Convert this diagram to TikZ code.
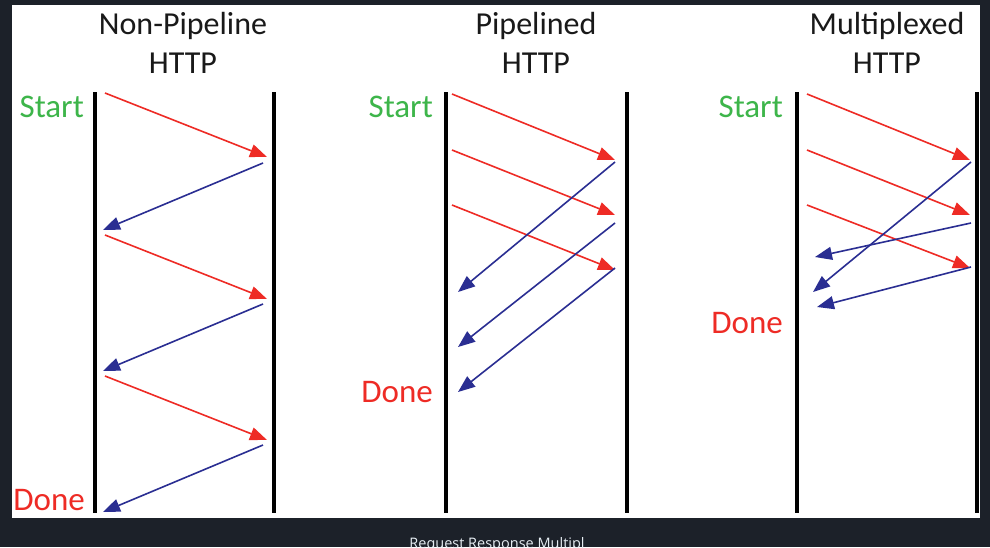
\documentclass[tikz,border=0pt]{standalone}
\usepackage{fontspec}
\setmainfont{Carlito}
\newfontfamily\capfont{Open Sans}
\usetikzlibrary{arrows.meta}
\definecolor{bg}{HTML}{1C2129}
\definecolor{req}{HTML}{EE2B25}
\definecolor{resp}{HTML}{2A2E92}
\definecolor{startc}{HTML}{3DB54A}
\definecolor{capc}{HTML}{E6EDF3}
\begin{document}
\begin{tikzpicture}[x=1pt,y=-1pt,
  wire/.style={line width=4pt, black},
  reqarrow/.style={draw=req, line width=1.6pt, -{Triangle[length=17pt,width=13pt,fill=req]}},
  resparrow/.style={draw=resp, line width=1.6pt, -{Triangle[length=17pt,width=13pt,fill=resp]}},
  title/.style={font=\fontsize{32}{39}\selectfont, align=center, text=black!90, inner sep=0pt},
  startlbl/.style={font=\fontsize{33}{36}\selectfont, anchor=base east, inner sep=0pt, text=startc},
  donelbl/.style={font=\fontsize{33}{36}\selectfont, anchor=base east, inner sep=0pt, text=req}]
\fill[bg] (0,0) rectangle (990,547);
\useasboundingbox (0,0) rectangle (990,547);
\fill[white] (12,5) rectangle (980,518);

% titles
\node[title] (t1) at (183,43) {Non-Pipeline\\HTTP};
\node[title] (t2) at (536,43) {Pipelined\\HTTP};
\node[title] (t3) at (887,43) {Multiplexed\\HTTP};

% labels
\node[startlbl] (s1) at (84,117) {Start};
\node[donelbl] (d1) at (85,510) {Done};
\node[startlbl] (s2) at (433,117) {Start};
\node[donelbl] (d2) at (433,402) {Done};
\node[startlbl] (s3) at (783,117) {Start};
\node[donelbl] (d3) at (783,333) {Done};

% timelines
\coordinate (a1t) at (95,92);  \coordinate (a1b) at (95,513);
\coordinate (b1t) at (274,92); \coordinate (b1b) at (274,513);
\coordinate (a2t) at (446,92); \coordinate (a2b) at (446,513);
\coordinate (b2t) at (627,92); \coordinate (b2b) at (627,513);
\coordinate (a3t) at (797,92); \coordinate (a3b) at (797,513);
\coordinate (b3t) at (977,92); \coordinate (b3b) at (977,513);
\draw[wire] (a1t) -- (a1b);
\draw[wire] (b1t) -- (b1b);
\draw[wire] (a2t) -- (a2b);
\draw[wire] (b2t) -- (b2b);
\draw[wire] (a3t) -- (a3b);
\draw[wire] (b3t) -- (b3b);

% panel 1
\coordinate (p1q1s) at (105,93);  \coordinate (p1q1e) at (267,157);
\coordinate (p1r1s) at (263,163); \coordinate (p1r1e) at (103,230);
\coordinate (p1q2s) at (105,235); \coordinate (p1q2e) at (267,299);
\coordinate (p1r2s) at (263,304); \coordinate (p1r2e) at (103,371);
\coordinate (p1q3s) at (105,376); \coordinate (p1q3e) at (267,440);
\coordinate (p1r3s) at (263,445); \coordinate (p1r3e) at (103,512);
\draw[reqarrow] (p1q1s) -- (p1q1e);
\draw[resparrow] (p1r1s) -- (p1r1e);
\draw[reqarrow] (p1q2s) -- (p1q2e);
\draw[resparrow] (p1r2s) -- (p1r2e);
\draw[reqarrow] (p1q3s) -- (p1q3e);
\draw[resparrow] (p1r3s) -- (p1r3e);

% panel 2
\coordinate (p2q1s) at (452,94);  \coordinate (p2q1e) at (615,160);
\coordinate (p2q2s) at (452,150); \coordinate (p2q2e) at (615,215);
\coordinate (p2q3s) at (452,205); \coordinate (p2q3e) at (615,270);
\coordinate (p2r1s) at (615,162); \coordinate (p2r1e) at (458,292);
\coordinate (p2r2s) at (615,223); \coordinate (p2r2e) at (458,347);
\coordinate (p2r3s) at (615,268); \coordinate (p2r3e) at (458,392);
\draw[reqarrow] (p2q1s) -- (p2q1e);
\draw[reqarrow] (p2q2s) -- (p2q2e);
\draw[reqarrow] (p2q3s) -- (p2q3e);
\draw[resparrow] (p2r1s) -- (p2r1e);
\draw[resparrow] (p2r2s) -- (p2r2e);
\draw[resparrow] (p2r3s) -- (p2r3e);

% panel 3
\coordinate (p3q1s) at (807,94);  \coordinate (p3q1e) at (970,160);
\coordinate (p3q2s) at (807,150); \coordinate (p3q2e) at (970,215);
\coordinate (p3q3s) at (807,205); \coordinate (p3q3e) at (970,268);
\coordinate (p3r1s) at (971,162); \coordinate (p3r1e) at (813,292);
\coordinate (p3r2s) at (971,223); \coordinate (p3r2e) at (815,257);
\coordinate (p3r3s) at (971,267); \coordinate (p3r3e) at (817,307);
\draw[reqarrow] (p3q1s) -- (p3q1e);
\draw[reqarrow] (p3q2s) -- (p3q2e);
\draw[reqarrow] (p3q3s) -- (p3q3e);
\draw[resparrow] (p3r1s) -- (p3r1e);
\draw[resparrow] (p3r2s) -- (p3r2e);
\draw[resparrow] (p3r3s) -- (p3r3e);

% caption
\node[font=\capfont\fontsize{14.5}{16}\selectfont, text=capc, anchor=base, inner sep=0pt] (cap) at (497,548) {Request Response Multipl};
\end{tikzpicture}
\end{document}
